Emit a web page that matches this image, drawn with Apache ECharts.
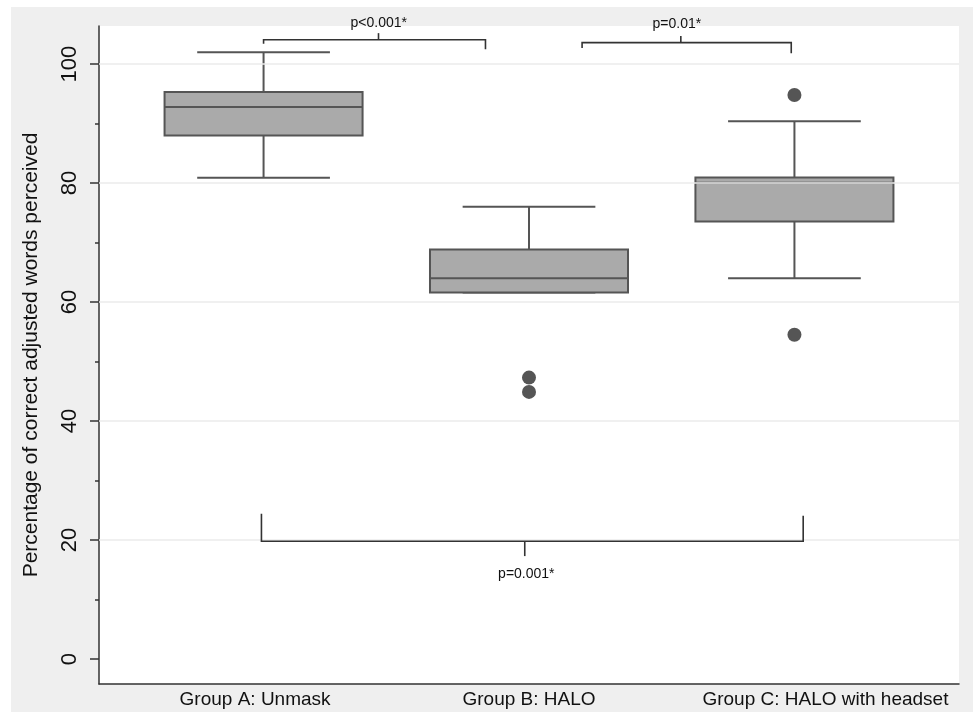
<!DOCTYPE html>
<html>
<head>
<meta charset="utf-8">
<script src="https://cdn.jsdelivr.net/npm/echarts@6/dist/echarts.min.js"></script>
<style>
  html, body { margin: 0; padding: 0; background: #fff; }
  #chart { position: absolute; left: 11px; top: 7px; width: 962px; height: 705px; background: #efefef; }
</style>
</head>
<body>
<div id="chart"></div>
<script>
// groups and box statistics (percent of correct adjusted words)
const groups = ['Group A: Unmask', 'Group B: HALO', 'Group C: HALO with headset'];
const groupPos = [1, 2, 3];
const whiskerLow = [80.9, 61.6, 64.0];
const quartile1 = [88.0, 61.6, 73.55];
const medians = [92.8, 64.0, 80.05];
const quartile3 = [95.3, 68.85, 80.95];
const whiskerHigh = [102.0, 76.0, 90.4];
const outliers = [[2, 47.3], [2, 44.9], [3, 94.8], [3, 54.5]];

const yMajorTicks = [0, 20, 40, 60, 80, 100];
const yMinorTicks = [10, 30, 50, 70, 90];
const gridValues = [20, 40, 60, 80, 100];

// significance brackets
const bracketLabels = ['p<0.001*', 'p=0.01*', 'p=0.001*'];
const bracketFrom = [1.0, 2.2, 0.992];
const bracketTo = [1.836, 2.988, 3.033];
const bracketLevel = [104.1, 103.6, 19.8];
const bracketLegFrom = [103.4, 102.7, 24.4];
const bracketLegTo = [102.5, 101.8, 24.1];
const bracketMid = [1.433, 2.572, 1.984];
const bracketMidEnd = [105.2, 104.7, 17.3];
const bracketTextX = [1.434, 2.557, 1.99];
const bracketTextY = [106.9, 106.7, 14.3];

const FONT = '"Liberation Sans", Arial, Helvetica, sans-serif';
const boxData = groupPos.map((x, i) => [x, whiskerLow[i], quartile1[i], medians[i], quartile3[i], whiskerHigh[i]]);
const bracketData = bracketLabels.map((t, i) => [
    bracketFrom[i], bracketTo[i], bracketLevel[i], bracketLegFrom[i], bracketLegTo[i],
    bracketMid[i], bracketMidEnd[i], bracketTextX[i], bracketTextY[i], i
]);

const chart = echarts.init(document.getElementById('chart'));

chart.setOption({
    animation: false,
    grid: {left: 88, right: 14, top: 19, bottom: 28, show: true, backgroundColor: '#fff', borderWidth: 0},
    xAxis: {
        type: 'value', min: 0.38, max: 3.62,
        axisLine: {show: true, onZero: false, lineStyle: {color: '#333', width: 1.5}},
        axisTick: {show: false},
        splitLine: {show: false},
        axisLabel: {
            customValues: groupPos, margin: 6, color: '#111', fontFamily: FONT, fontSize: 19,
            formatter: v => '{g' + Math.round(v) + '|' + groups[Math.round(v) - 1] + '}',
            rich: {
                g1: {fontFamily: FONT, fontSize: 19, color: '#111', padding: [0, 17, 0, 0]},
                g2: {fontFamily: FONT, fontSize: 19, color: '#111'},
                g3: {fontFamily: FONT, fontSize: 19, color: '#111', padding: [0, 0, 0, 62]}
            }
        }
    },
    yAxis: [{
        type: 'value', min: -4.2, max: 106.4,
        name: 'Percentage of correct adjusted words perceived',
        nameLocation: 'middle', nameGap: 57,
        nameTextStyle: {fontFamily: FONT, fontSize: 21, color: '#111'},
        axisLine: {show: true, onZero: false, lineStyle: {color: '#333', width: 1.5}},
        axisTick: {show: true, customValues: yMajorTicks, length: 9, lineStyle: {color: '#333', width: 1.5}},
        axisLabel: {customValues: yMajorTicks, rotate: 90, margin: 18, fontFamily: FONT, fontSize: 22, color: '#111'},
        splitLine: {show: false}
    }, {
        type: 'value', min: -4.2, max: 106.4, position: 'left',
        axisLine: {show: false, onZero: false},
        axisTick: {show: true, customValues: yMinorTicks, length: 4, lineStyle: {color: '#333', width: 1.5}},
        axisLabel: {show: false},
        splitLine: {show: false}
    }],
    series: [{
        type: 'line', data: [], z: 1, silent: true,
        markLine: {
            silent: true, symbol: 'none', label: {show: false},
            lineStyle: {color: '#ebebeb', width: 1.5, type: 'solid'},
            data: gridValues.map(v => ({yAxis: v}))
        }
    }, {
        type: 'custom', z: 3, clip: false,
        data: boxData,
        encode: {x: 0, y: [1, 2, 3, 4, 5]},
        renderItem(params, api) {
            const x = api.value(0);
            const half = api.size([0.373, 0])[0];
            const capHalf = api.size([0.25, 0])[0];
            const lo = api.coord([x, api.value(1)]);
            const q1 = api.coord([x, api.value(2)]);
            const md = api.coord([x, api.value(3)]);
            const q3 = api.coord([x, api.value(4)]);
            const hi = api.coord([x, api.value(5)]);
            const ls = {stroke: '#555', lineWidth: 2};
            return {type: 'group', children: [
                {type: 'line', shape: {x1: hi[0], y1: hi[1], x2: q3[0], y2: q3[1]}, style: ls},
                {type: 'line', shape: {x1: hi[0] - capHalf, y1: hi[1], x2: hi[0] + capHalf, y2: hi[1]}, style: ls},
                {type: 'line', shape: {x1: lo[0], y1: lo[1], x2: q1[0], y2: q1[1]}, style: ls},
                {type: 'line', shape: {x1: lo[0] - capHalf, y1: lo[1], x2: lo[0] + capHalf, y2: lo[1]}, style: ls},
                {type: 'rect', shape: {x: q3[0] - half, y: q3[1], width: 2 * half, height: q1[1] - q3[1]},
                    style: {fill: '#aaaaaa', stroke: '#555', lineWidth: 2}},
                {type: 'line', shape: {x1: md[0] - half, y1: md[1], x2: md[0] + half, y2: md[1]}, style: ls}
            ]};
        }
    }, {
        type: 'scatter', z: 4,
        data: outliers,
        symbolSize: 14,
        itemStyle: {color: '#555', opacity: 1}
    }, {
        type: 'custom', z: 5, clip: false,
        data: bracketData,
        encode: {x: [0, 1], y: [2, 3]},
        renderItem(params, api) {
            const a = api.coord([api.value(0), api.value(2)]);
            const b = api.coord([api.value(1), api.value(2)]);
            const la = api.coord([api.value(0), api.value(3)]);
            const lb = api.coord([api.value(1), api.value(4)]);
            const m = api.coord([api.value(5), api.value(2)]);
            const me = api.coord([api.value(5), api.value(6)]);
            const t = api.coord([api.value(7), api.value(8)]);
            const ls = {stroke: '#333', lineWidth: 1.6, fill: null};
            return {type: 'group', children: [
                {type: 'polyline', shape: {points: [la, a, b, lb]}, style: ls},
                {type: 'line', shape: {x1: m[0], y1: m[1], x2: me[0], y2: me[1]}, style: ls},
                {type: 'text', x: t[0], y: t[1], style: {
                    text: bracketLabels[api.value(9)], fill: '#111', font: '14px ' + FONT,
                    align: 'center', verticalAlign: 'middle'
                }}
            ]};
        }
    }]
});
</script>
</body>
</html>
